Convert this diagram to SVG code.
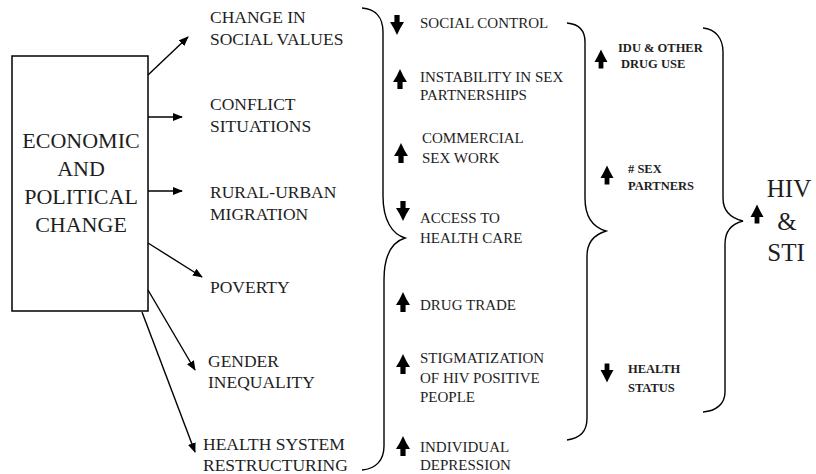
<svg xmlns="http://www.w3.org/2000/svg" xmlns:xlink="http://www.w3.org/1999/xlink" width="816" height="474" viewBox="0 0 816 474">
<style>
text{font-family:"Liberation Serif","Times New Roman",serif;fill:#1e1e1e}
.box{font-size:22px;text-anchor:middle}
.lbl{font-size:17.5px}
.mid{font-size:15px}
.bld{font-size:12.5px;font-weight:bold}
.big{font-size:25px;text-anchor:middle}
.conn{stroke:#000;stroke-width:1.4;fill:none}
.brace{stroke:#000;stroke-width:1.4;fill:none}
</style>
<defs>
<marker id="ah" markerWidth="10" markerHeight="8" refX="9" refY="4" orient="auto" markerUnits="userSpaceOnUse">
<path d="M0,0 L10,4 L0,8 Z" fill="#000"/>
</marker>
<path id="up" d="M0,-10 Q3,-3 7,3 L2.6,3 L2.6,10 L-2.6,10 L-2.6,3 L-7,3 Q-3,-3 0,-10 Z" fill="#000"/>
<path id="upS" d="M0,-9.5 Q3,-3 6.5,3 L2.4,3 L2.4,9.5 L-2.4,9.5 L-2.4,3 L-6.5,3 Q-3,-3 0,-9.5 Z" fill="#000"/>
</defs>
<rect width="816" height="474" fill="#fff"/>

<g id="econ">
<rect x="12" y="56" width="136" height="255" fill="#fff" stroke="#000" stroke-width="1.5"/>
<text class="box" x="81" y="148">ECONOMIC</text>
<text class="box" x="81" y="176">AND</text>
<text class="box" x="81" y="204">POLITICAL</text>
<text class="box" x="81" y="232">CHANGE</text>
</g>

<g id="connectors">
<line class="conn" x1="148" y1="75" x2="188" y2="37" marker-end="url(#ah)"/>
<line class="conn" x1="148" y1="117" x2="182" y2="117" marker-end="url(#ah)"/>
<line class="conn" x1="148" y1="191" x2="182" y2="191" marker-end="url(#ah)"/>
<line class="conn" x1="148" y1="243" x2="202" y2="277" marker-end="url(#ah)"/>
<line class="conn" x1="148" y1="290" x2="195" y2="370" marker-end="url(#ah)"/>
<line class="conn" x1="142" y1="312" x2="195" y2="452" marker-end="url(#ah)"/>
<path class="brace" d="M362,8 C376,9 383,18 383,32 L383,196 C383,220 392,234 405,238 C392,242 384,256 384,280 L384,446 C384,460 376,469 362,470"/>
<path class="brace" d="M567,23 C578,24 585,30 585,42 L585,198 C585,216 592,227 606,231 C593,235 587,243 587,256 L587,418 C587,432 580,438 567,440"/>
<path class="brace" d="M703,28 C715,29 723,38 723,52 L723,198 C723,210 730,218 743,221 C731,224 725,232 725,244 L725,392 C725,404 716,411 703,412"/>
</g>

<g id="social-values"><text class="lbl" x="210" y="23">CHANGE IN</text><text class="lbl" x="210" y="45">SOCIAL VALUES</text></g>
<g id="conflict"><text class="lbl" x="210" y="110">CONFLICT</text><text class="lbl" x="210" y="132">SITUATIONS</text></g>
<g id="migration"><text class="lbl" x="210" y="198">RURAL-URBAN</text><text class="lbl" x="210" y="220">MIGRATION</text></g>
<g id="poverty"><text class="lbl" x="210" y="293">POVERTY</text></g>
<g id="gender"><text class="lbl" x="208" y="367">GENDER</text><text class="lbl" x="208" y="388">INEQUALITY</text></g>
<g id="health-system"><text class="lbl" x="203" y="450">HEALTH SYSTEM</text><text class="lbl" x="203" y="471">RESTRUCTURING</text></g>

<g id="social-control"><use xlink:href="#up" transform="translate(397,25) rotate(180)"/><text class="mid" x="420" y="28">SOCIAL CONTROL</text></g>
<g id="instability"><use xlink:href="#up" transform="translate(400,79)"/><text class="mid" x="420" y="82">INSTABILITY IN SEX</text><text class="mid" x="420" y="100">PARTNERSHIPS</text></g>
<g id="commercial-sex"><use xlink:href="#up" transform="translate(401,153)"/><text class="mid" x="422" y="143">COMMERCIAL</text><text class="mid" x="422" y="163">SEX WORK</text></g>
<g id="access-health"><use xlink:href="#up" transform="translate(403,211) rotate(180)"/><text class="mid" x="420" y="223">ACCESS TO</text><text class="mid" x="420" y="243">HEALTH CARE</text></g>
<g id="drug-trade"><use xlink:href="#up" transform="translate(403,302)"/><text class="mid" x="420" y="310">DRUG TRADE</text></g>
<g id="stigma"><use xlink:href="#up" transform="translate(403,364)"/><text class="mid" x="420" y="363">STIGMATIZATION</text><text class="mid" x="420" y="383">OF HIV POSITIVE</text><text class="mid" x="420" y="402">PEOPLE</text></g>
<g id="depression"><use xlink:href="#up" transform="translate(403,446)"/><text class="mid" x="420" y="452">INDIVIDUAL</text><text class="mid" x="420" y="470">DEPRESSION</text></g>

<g id="idu"><use xlink:href="#upS" transform="translate(601,59)"/><text class="bld" x="618" y="52">IDU &amp; OTHER</text><text class="bld" x="621" y="68">DRUG USE</text></g>
<g id="sex-partners"><use xlink:href="#upS" transform="translate(607,175)"/><text class="bld" x="628" y="173"># SEX</text><text class="bld" x="628" y="190">PARTNERS</text></g>
<g id="health-status"><use xlink:href="#upS" transform="translate(607,373) rotate(180)"/><text class="bld" x="628" y="373">HEALTH</text><text class="bld" x="628" y="392">STATUS</text></g>

<g id="hiv-sti"><use xlink:href="#upS" transform="translate(757,214)"/><text class="big" x="789" y="197">HIV</text><text class="big" x="787" y="230">&amp;</text><text class="big" x="786" y="261">STI</text></g>
</svg>
